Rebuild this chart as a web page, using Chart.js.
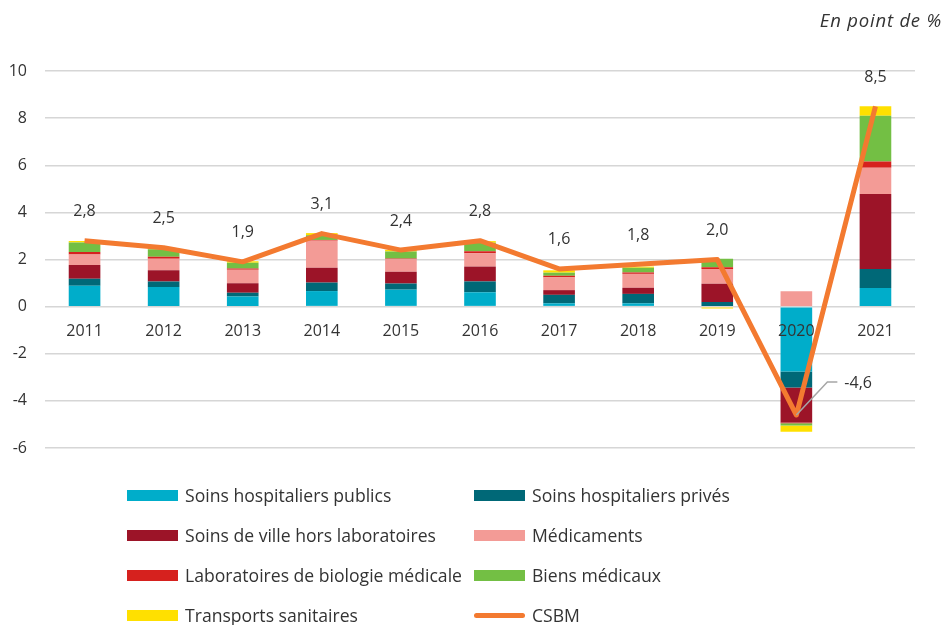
<!DOCTYPE html>
<html>
<head>
<meta charset="utf-8">
<script src="https://cdn.jsdelivr.net/npm/chart.js@4/dist/chart.umd.min.js"></script>
<style>
  body { margin: 0; background: #fff; font-family: "Open Sans", sans-serif; }
  #wrap { position: relative; width: 951px; height: 625px; }
  #unit { position: absolute; right: 9px; top: 7px; font-style: italic; font-size: 18.5px; letter-spacing: 0.8px; color: #333; }
  .leg { position: absolute; height: 24px; display: flex; align-items: center; font-size: 17.6px; color: #333; white-space: nowrap; }
  .sw { width: 51px; height: 11px; margin-right: 7px; }
  .swl { width: 51px; height: 5px; border-radius: 3px; margin-right: 7px; }
</style>
</head>
<body>
<div id="wrap">
  <canvas id="myChart" width="951" height="625"></canvas>
  <div id="unit">En point de %</div>
</div>
<script>
const years = ['2011', '2012', '2013', '2014', '2015', '2016', '2017', '2018', '2019', '2020', '2021'];
const publics = [0.89, 0.83, 0.43, 0.66, 0.72, 0.61, 0.14, 0.14, 0.03, -2.75, 0.79];
const prives = [0.29, 0.24, 0.16, 0.36, 0.26, 0.46, 0.36, 0.40, 0.17, -0.68, 0.81];
const ville = [0.59, 0.47, 0.40, 0.63, 0.50, 0.63, 0.20, 0.26, 0.77, -1.49, 3.18];
const medicaments = [0.44, 0.49, 0.57, 1.15, 0.53, 0.56, 0.54, 0.59, 0.63, 0.65, 1.11];
const labos = [0.11, 0.09, 0.06, 0.03, 0.03, 0.09, 0.07, 0.06, 0.07, -0.03, 0.27];
const biens = [0.40, 0.31, 0.24, 0.20, 0.30, 0.36, 0.13, 0.20, 0.36, -0.10, 1.94];
const transports = [0.07, 0.05, 0.07, 0.09, 0.07, 0.07, 0.10, 0.05, -0.08, -0.26, 0.40];
const csbm = [2.8, 2.5, 1.9, 3.1, 2.4, 2.8, 1.6, 1.8, 2.0, -4.6, 8.5];

const seriesNames = ['Soins hospitaliers publics', 'Soins hospitaliers privés', 'Soins de ville hors laboratoires',
  'Médicaments', 'Laboratoires de biologie médicale', 'Biens médicaux', 'Transports sanitaires'];
const seriesData = [publics, prives, ville, medicaments, labos, biens, transports];
const seriesColors = ['#00ADCA', '#006877', '#9C1428', '#F39B96', '#D6211E', '#73BF44', '#FFE000'];
const lineName = 'CSBM';
const lineColor = '#F37A30';

var txt = '#333333';
var fnt = '16px "Open Sans", sans-serif';

function fr(v) { return v.toFixed(1).replace('.', ','); }

// draw the year labels between the bars and the line
const yearLabels = {
  id: 'yearLabels',
  beforeDatasetDraw: function(chart, args) {
    if (args.meta.type !== 'line') return;
    var ctx = chart.ctx, xs = chart.scales.x, ys = chart.scales.y;
    var y0 = ys.getPixelForValue(0);
    ctx.save();
    ctx.font = fnt; ctx.fillStyle = txt;
    ctx.textAlign = 'center'; ctx.textBaseline = 'middle';
    years.forEach(function(yr, i) {
      ctx.fillText(yr, xs.getPixelForValue(i), y0 + 25);
    });
    ctx.restore();
  }
};

// CSBM value labels
const valueLabels = {
  id: 'valueLabels',
  afterDatasetsDraw: function(chart) {
    var ctx = chart.ctx;
    var meta = chart.getDatasetMeta(0);
    ctx.save();
    ctx.font = fnt; ctx.fillStyle = txt; ctx.textBaseline = 'middle';
    meta.data.forEach(function(pt, i) {
      var v = csbm[i];
      if (v >= 0) {
        ctx.textAlign = 'center';
        ctx.fillText(fr(v), pt.x, pt.y - 29);
      } else {
        ctx.strokeStyle = '#a6a6a6'; ctx.lineWidth = 1.5;
        ctx.beginPath();
        ctx.moveTo(pt.x, pt.y);
        ctx.lineTo(pt.x + 31, pt.y - 33);
        ctx.lineTo(pt.x + 41, pt.y - 33);
        ctx.stroke();
        ctx.textAlign = 'left';
        ctx.fillText(fr(v), pt.x + 48, pt.y - 32);
      }
    });
    ctx.restore();
  }
};

var datasets = [{
  type: 'line',
  label: lineName,
  data: csbm,
  borderColor: lineColor,
  backgroundColor: lineColor,
  borderWidth: 5,
  pointRadius: 0,
  tension: 0,
  borderJoinStyle: 'round',
  stack: 'csbm',
  order: -1
}];
seriesNames.forEach(function(n, i) {
  datasets.push({
    type: 'bar',
    label: n,
    data: seriesData[i],
    backgroundColor: seriesColors[i],
    borderWidth: 0,
    barPercentage: 0.4,
    categoryPercentage: 1.0,
    stack: 'parts'
  });
});

var ctx = document.getElementById('myChart').getContext('2d');
var myChart = new Chart(ctx, {
  data: { labels: years, datasets: datasets },
  options: {
    responsive: false,
    animation: false,
    layout: { padding: { left: 0, right: 36, top: 71, bottom: 177 } },
    scales: {
      x: { display: false, stacked: true, offset: true },
      y: {
        stacked: true,
        min: -6, max: 10,
        afterFit: function(s) { s.width = 45; },
        ticks: { stepSize: 2, color: txt, font: { family: '"Open Sans", sans-serif', size: 16 }, padding: 18 },
        grid: { color: '#d6d6d6', lineWidth: 1.5, drawTicks: false },
        border: { display: false }
      }
    },
    plugins: {
      legend: { display: false },
      tooltip: { enabled: false }
    }
  },
  plugins: [yearLabels, valueLabels]
});

// legend in two columns
var wrap = document.getElementById('wrap');
var items = seriesNames.map(function(n, i) { return { name: n, color: seriesColors[i], line: false }; });
items.push({ name: lineName, color: lineColor, line: true });
items.forEach(function(it, i) {
  var d = document.createElement('div');
  d.className = 'leg';
  d.style.left = (i % 2 === 0 ? 127 : 474) + 'px';
  d.style.top = (483 + 40 * Math.floor(i / 2)) + 'px';
  var s = document.createElement('span');
  s.className = it.line ? 'swl' : 'sw';
  s.style.background = it.color;
  d.appendChild(s);
  d.appendChild(document.createTextNode(it.name));
  wrap.appendChild(d);
});
</script>
</body>
</html>
